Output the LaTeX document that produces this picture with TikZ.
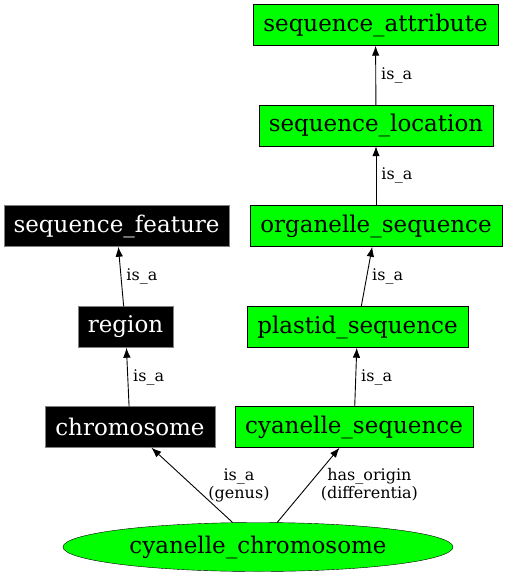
\documentclass[tikz,border=0pt]{standalone}
\usepackage{fontspec}
\setmainfont{DejaVu Serif}
\usetikzlibrary{arrows.meta,shapes.geometric}

\begin{document}
\begin{tikzpicture}[x=1pt,y=-1pt]
\tikzset{term/.style = {shape=rectangle,draw=black,fill=green,minimum height=41pt,
                        inner sep=0pt,font=\fontsize{23}{26}\selectfont},
         parent/.style = {term,fill=black,text=white,draw=gray},
         goal/.style = {shape=ellipse,draw=black,fill=green,minimum width=390pt,
                        minimum height=49pt,inner sep=0pt,font=\fontsize{23}{26}\selectfont},
         edge/.style = {-{Latex[length=10pt,width=7.5pt]},line width=0.9pt},
         elab/.style = {inner sep=0pt,align=center,font=\fontsize{16}{18}\selectfont}}
\useasboundingbox (0,0) rectangle (506,576);
% vertices
\foreach \name/\x/\y/\w/\txt in {seqattr/375.5/25/245/sequence\_attribute,
    seqloc/376/125.5/234/sequence\_location,orgseq/376/226/252/organelle\_sequence,
    plseq/357.5/327/221/plastid\_sequence,cyseq/354/427/238/cyanelle\_sequence} {
    \node[term,minimum width=\w pt] (\name) at (\x,\y) {\txt};
}
\foreach \name/\x/\y/\w/\txt in {seqfeat/116.5/226/225/sequence\_feature,
    region/125.5/327/95/region,chrom/130/427/170/chromosome} {
    \node[parent,minimum width=\w pt] (\name) at (\x,\y) {\txt};
}
\node[goal] (cychr) at (258,547) {cyanelle\_chromosome};
% edges
\foreach \i/\j in {seqloc/seqattr,orgseq/seqloc,plseq/orgseq,cyseq/plseq,region/seqfeat,chrom/region} {
    \draw[edge] (\i) -- node[elab,midway,right=5pt] {is\_a} (\j);
}
\draw[edge] (cychr.136) -- node[elab,midway,right=16pt] {is\_a\\(genus)} (chrom.-44);
\draw[edge] (cychr.52) -- node[elab,midway,right=12pt] {has\_origin\\(differentia)} (cyseq.-125);
\end{tikzpicture}
\end{document}
